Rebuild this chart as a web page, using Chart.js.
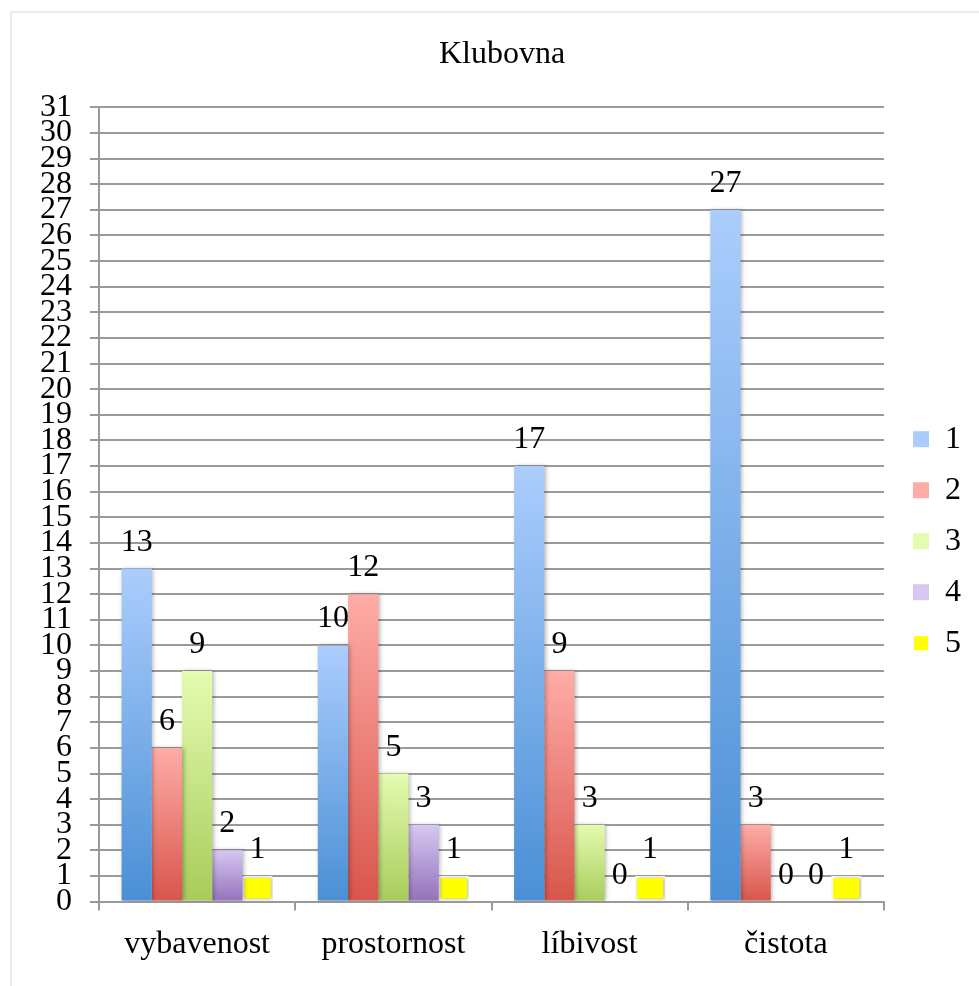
<!DOCTYPE html>
<html>
<head>
<meta charset="utf-8">
<title>Klubovna</title>
<script src="https://cdn.jsdelivr.net/npm/chart.js@4/dist/chart.umd.min.js"></script>
<style>
  html, body { margin: 0; padding: 0; background: #ffffff; overflow: hidden; }
  #wrap { width: 979px; height: 986px; position: relative; }
</style>
</head>
<body>
<div id="wrap"><canvas id="chart"></canvas></div>
<script>
// Survey answers (marks 1–5) for each aspect of the club room
const categories = ['vybavenost', 'prostornost', 'líbivost', 'čistota'];
const seriesNames = ['1', '2', '3', '4', '5'];
const mark1 = [13, 10, 17, 27];
const mark2 = [6, 12, 9, 3];
const mark3 = [9, 5, 3, 0];
const mark4 = [2, 3, 0, 0];
const mark5 = [1, 1, 1, 1];
const yMin = 0;
const yMax = 31;
const yStep = 1;

const FONT = "'Liberation Serif', 'Times New Roman', serif";
const GRID = '#9a9a9a';

// Vertical gradient per bar: light at the top, darker at the base
function barFill(light, dark, mid) {
  return (c) => {
    if (c.type !== 'data') return mid;
    const chart = c.chart;
    const y = chart.scales.y;
    if (!y) return mid;
    const top = y.getPixelForValue(c.raw);
    const base = y.getPixelForValue(0);
    if (!isFinite(top) || !isFinite(base) || Math.abs(base - top) < 1) return mid;
    const g = chart.ctx.createLinearGradient(0, top, 0, base);
    g.addColorStop(0, light);
    g.addColorStop(1, dark);
    return g;
  };
}

const seriesData = [mark1, mark2, mark3, mark4, mark5];
const fills = [
  barFill('#abcdfd', '#4a8fd5', '#7aaeea'),
  barFill('#ffaca7', '#d8554b', '#ec8078'),
  barFill('#e4fbb0', '#a8cc5b', '#c6e386'),
  barFill('#d7c7f2', '#9372b9', '#b49dd6'),
  '#ffff00'
];

const datasets = seriesNames.map((name, i) => ({
  label: name,
  data: seriesData[i],
  backgroundColor: fills[i],
  borderColor: i === 4 ? '#ffffff' : 'rgba(0,0,0,0)',
  borderWidth: i === 4 ? 2 : 0,
  borderSkipped: i === 4 ? false : 'start',
  categoryPercentage: 0.77,
  barPercentage: 1.0
}));

// Light frame around the chart, drawn behind everything
const framePlugin = {
  id: 'frame',
  beforeDraw(chart) {
    const c = chart.ctx;
    c.save();
    c.fillStyle = '#ffffff';
    c.fillRect(0, 0, chart.width, chart.height);
    c.strokeStyle = '#ecece2';
    c.lineWidth = 2;
    c.strokeRect(11, 12, chart.width + 40, chart.height + 40);
    c.restore();
  }
};

// Soft shadow behind the bars and value labels above them
const barDecor = {
  id: 'barDecor',
  beforeDatasetsDraw(chart) {
    const c = chart.ctx;
    c.save();
    c.shadowColor = 'rgba(0,0,0,0.28)';
    c.shadowBlur = 4;
    c.shadowOffsetX = 1.5;
    c.shadowOffsetY = 0;
  },
  afterDatasetsDraw(chart) {
    const c = chart.ctx;
    c.restore();
    c.save();
    c.font = '32px ' + FONT;
    c.fillStyle = '#000000';
    c.textAlign = 'center';
    c.textBaseline = 'alphabetic';
    chart.data.datasets.forEach((ds, i) => {
      const meta = chart.getDatasetMeta(i);
      if (meta.hidden) return;
      meta.data.forEach((bar, j) => {
        c.fillText(String(ds.data[j]), bar.x, bar.y - 18);
      });
    });
    c.restore();
  }
};

new Chart(document.getElementById('chart'), {
  type: 'bar',
  data: { labels: categories, datasets },
  options: {
    responsive: true,
    maintainAspectRatio: false,
    animation: false,
    layout: { padding: { left: 33, right: 8, top: 12, bottom: 7 } },
    plugins: {
      title: {
        display: true,
        text: 'Klubovna',
        color: '#000000',
        font: { family: FONT, size: 32, weight: 'normal', lineHeight: 1.2 },
        padding: { top: 23, bottom: 34 }
      },
      legend: {
        position: 'right',
        align: 'center',
        title: {
          display: true,
          text: '',
          font: { family: FONT, size: 12, lineHeight: 1.2 },
          padding: { top: 38, bottom: 39 }
        },
        labels: {
          color: '#000000',
          font: { family: FONT, size: 32 },
          boxWidth: 16,
          boxHeight: 16,
          padding: 19
        }
      },
      tooltip: { enabled: false }
    },
    scales: {
      x: {
        offset: true,
        grid: {
          display: true,
          offset: true,
          drawOnChartArea: false,
          drawTicks: true,
          tickLength: 9,
          color: GRID,
          lineWidth: 2
        },
        border: { display: true, color: GRID, width: 2 },
        ticks: {
          color: '#000000',
          font: { family: FONT, size: 32, lineHeight: 1.2 },
          padding: 15,
          maxRotation: 0
        }
      },
      y: {
        min: yMin,
        max: yMax,
        afterFit(scale) { scale.width = 66; },
        grid: {
          color: GRID,
          lineWidth: 2,
          drawTicks: true,
          tickLength: 9
        },
        border: { display: true, color: GRID, width: 2 },
        ticks: {
          stepSize: yStep,
          autoSkip: false,
          color: '#000000',
          font: { family: FONT, size: 32, lineHeight: 1 },
          padding: 18
        }
      },
      gap: {
        position: 'right',
        display: true,
        afterFit(scale) { scale.width = 10; },
        grid: { display: false },
        border: { display: false },
        ticks: { display: false }
      }
    }
  },
  plugins: [framePlugin, barDecor]
});
</script>
</body>
</html>
